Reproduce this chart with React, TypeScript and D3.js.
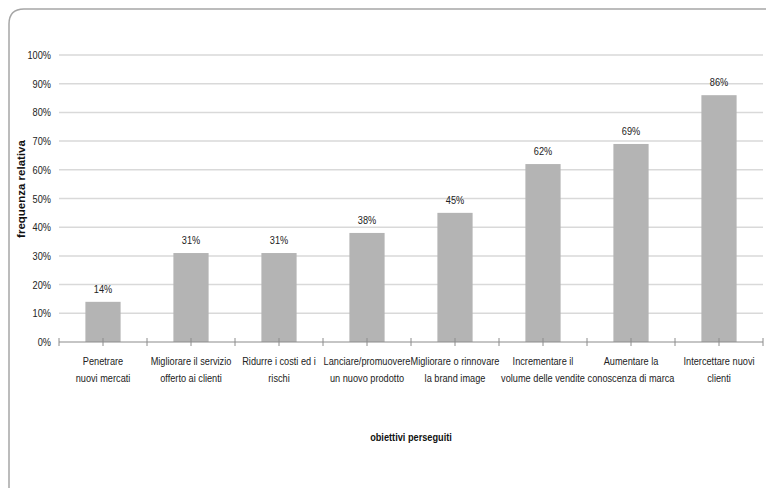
import React from "react";
import * as d3 from "d3";

const categories: string[][] = [
  ["Penetrare", "nuovi mercati"],
  ["Migliorare il servizio", "offerto ai clienti"],
  ["Ridurre i costi ed i", "rischi"],
  ["Lanciare/promuovere", "un nuovo prodotto"],
  ["Migliorare o rinnovare", "la brand image"],
  ["Incrementare il", "volume delle vendite"],
  ["Aumentare la", "conoscenza di marca"],
  ["Intercettare nuovi", "clienti"],
];
const values: number[] = [14, 31, 31, 38, 45, 62, 69, 86];
const yTicks: number[] = [0, 10, 20, 30, 40, 50, 60, 70, 80, 90, 100];
const xTitle = "obiettivi perseguiti";
const yTitle = "frequenza relativa";

const W = 766;
const H = 488;
const plot = { left: 59, right: 763, top: 55, bottom: 342 };
const FONT = "'Liberation Sans', Arial, sans-serif";
const NARROW_SCALE = 0.8;

type NTextProps = {
  x: number;
  y: number;
  anchor?: "start" | "middle" | "end";
  bold?: boolean;
  size?: number;
  children: React.ReactNode;
};

// Condensed text: Arial-metric face squeezed horizontally
function NText({ x, y, anchor = "middle", bold = false, size = 11.5, children }: NTextProps) {
  return (
    <text
      transform={`translate(${x},${y}) scale(${NARROW_SCALE},1)`}
      textAnchor={anchor}
      fontFamily={FONT}
      fontWeight={bold ? "bold" : "normal"}
      fontSize={size}
      fill={bold ? "#111" : "#222"}
    >
      {children}
    </text>
  );
}

export default function App() {
  const keys = categories.map((_, i) => String(i));
  const x = d3.scaleBand<string>().domain(keys).range([plot.left, plot.right]).paddingInner(0).paddingOuter(0);
  const y = d3.scaleLinear().domain([0, 100]).range([plot.bottom, plot.top]);
  const bw = x.bandwidth() * 0.4;

  const framePath = `M9,${H + 10} L9,24 Q9,9 24,9 L${W + 10},9`;

  return (
    <svg
      width={W}
      height={H}
      viewBox={`0 0 ${W} ${H}`}
      style={{ position: "absolute", left: 0, top: 0, background: "#fff" }}
    >
      <path d={framePath} fill="none" stroke="#a6a6a6" strokeWidth={1.5} />
      {/* gridlines and value axis labels */}
      {yTicks.map((t) => (
        <g key={t}>
          {t > 0 && (
            <line x1={plot.left} x2={plot.right} y1={y(t)} y2={y(t)} stroke="#d9d9d9" strokeWidth={1.5} />
          )}
          <NText x={plot.left - 8} y={y(t) + 4} anchor="end">
            {t}%
          </NText>
        </g>
      ))}
      {/* bars */}
      {values.map((v, i) => {
        const cx = (x(String(i)) as number) + x.bandwidth() / 2;
        return (
          <g key={i}>
            <rect x={cx - bw / 2} y={y(v)} width={bw} height={y(0) - y(v)} fill="#b4b4b4" />
            <NText x={cx} y={y(v) - 9}>
              {v}%
            </NText>
          </g>
        );
      })}
      {/* category axis */}
      <line x1={plot.left} x2={plot.right} y1={y(0)} y2={y(0)} stroke="#8c8c8c" strokeWidth={1.2} />
      {keys.map((k, i) => {
        const x0 = x(k) as number;
        const cx = x0 + x.bandwidth() / 2;
        return (
          <g key={k}>
            <line x1={x0} x2={x0} y1={y(0) - 4} y2={y(0) + 4} stroke="#8c8c8c" />
            <line x1={cx} x2={cx} y1={y(0) - 4} y2={y(0) + 4} stroke="#8c8c8c" />
            {categories[i].map((line, j) => (
              <NText key={j} x={cx} y={y(0) + 23 + j * 16.5}>
                {line}
              </NText>
            ))}
          </g>
        );
      })}
      <line x1={plot.right} x2={plot.right} y1={y(0) - 4} y2={y(0) + 4} stroke="#8c8c8c" />
      {/* axis titles */}
      <NText x={411} y={441} bold>
        {xTitle}
      </NText>
      <text
        transform={`translate(21,189) rotate(-90)`}
        dy="0.35em"
        textAnchor="middle"
        fontFamily={FONT}
        fontWeight="bold"
        fontSize={11.5}
        fill="#111"
      >
        {yTitle}
      </text>
    </svg>
  );
}
